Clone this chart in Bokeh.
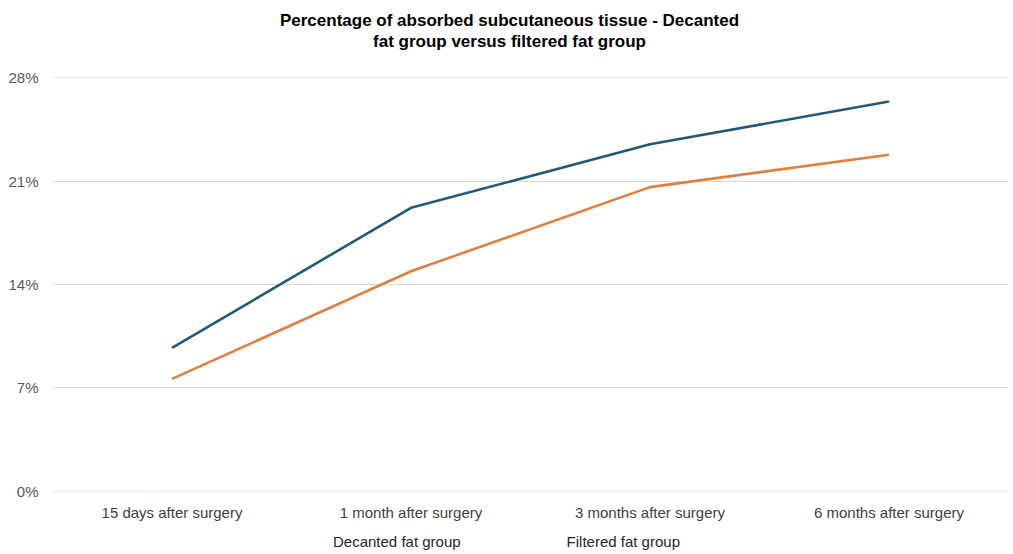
from bokeh.plotting import figure
from bokeh.layouts import column
from bokeh.models import Label, FactorRange, Range1d, FixedTicker, ColumnDataSource, Legend, LegendItem
from bokeh.embed import file_html
from bokeh.resources import INLINE

categories = ["15 days after surgery", "1 month after surgery", "3 months after surgery", "6 months after surgery"]
decanted = [9.7, 19.2, 23.5, 26.4]
filtered = [7.6, 14.9, 20.6, 22.8]
y_ticks = [0, 7, 14, 21, 28]
title_lines = ["Percentage of absorbed subcutaneous tissue - Decanted", "fat group versus filtered fat group"]
series_names = ["Decanted fat group", "Filtered fat group"]

FONT = "Liberation Sans"
BLUE = "#215a78"
ORANGE = "#e0803f"

# ---- title strip ----
ts = figure(width=1013, height=60, x_range=FactorRange(*categories, range_padding=0), y_range=Range1d(0, 1),
            output_backend="svg", toolbar_location=None, min_border=0, title=None)
ts.outline_line_color = None
ts.axis.visible = False
ts.grid.visible = False
for i, t in enumerate(title_lines):
    ts.add_layout(Label(x=457, y=40 - i * 21, x_units="screen", y_units="screen", text=t,
                        text_align="center", text_baseline="middle", text_font=FONT,
                        text_font_size="17px", text_font_style="bold", text_color="#000000"))

# ---- main chart ----
p = figure(width=1013, height=465, x_range=ts.x_range,
           y_range=Range1d(-0.03, 28.03), output_backend="svg", toolbar_location=None, title=None,
           min_border_left=52, min_border_right=5, min_border_top=17, min_border_bottom=34)
p.outline_line_color = None
p.background_fill_color = "white"
p.border_fill_color = "white"

src = ColumnDataSource(dict(x=categories, d=decanted, f=filtered))
p.line("x", "d", source=src, line_color=BLUE, line_width=2.6)
p.line("x", "f", source=src, line_color=ORANGE, line_width=2.6)

p.xgrid.grid_line_color = None
p.ygrid.grid_line_color = "#d9d9d9"
p.ygrid.grid_line_width = 1.2
p.yaxis.ticker = FixedTicker(ticks=y_ticks)
p.yaxis.major_label_overrides = {t: f"{t}%" for t in y_ticks}
for ax in (p.xaxis, p.yaxis):
    ax.axis_line_color = None
    ax.major_tick_line_color = None
    ax.minor_tick_line_color = None
    ax.major_label_text_font = FONT
    ax.major_label_text_font_size = "15px"
    ax.major_label_text_color = "#404040"
p.yaxis.major_label_standoff = 8
p.yaxis.major_label_text_color = "#595959"
p.xaxis.major_label_standoff = 6

# ---- legend strip (text-only legend, as in the reference) ----
lg = figure(width=1013, height=29, x_range=ts.x_range, y_range=Range1d(0, 1),
            output_backend="svg", toolbar_location=None, min_border=0, title=None)
lg.outline_line_color = None
lg.axis.visible = False
lg.grid.visible = False
lsrc = ColumnDataSource(dict(x=categories, d=decanted, f=filtered))
r_d = lg.line("x", "d", source=lsrc, line_alpha=0)
r_f = lg.line("x", "f", source=lsrc, line_alpha=0)
legend = Legend(items=[LegendItem(label=series_names[0], renderers=[r_d]),
                       LegendItem(label=series_names[1], renderers=[r_f])],
                orientation="horizontal", location=(280, 4), glyph_width=1, glyph_height=10,
                label_standoff=0, spacing=105, border_line_color=None, background_fill_alpha=0,
                label_text_font=FONT, label_text_font_size="15px", label_text_color="#262626",
                padding=0, margin=0)
lg.add_layout(legend)

open("out.html", "w").write(file_html(column(ts, p, lg, spacing=0), INLINE))
